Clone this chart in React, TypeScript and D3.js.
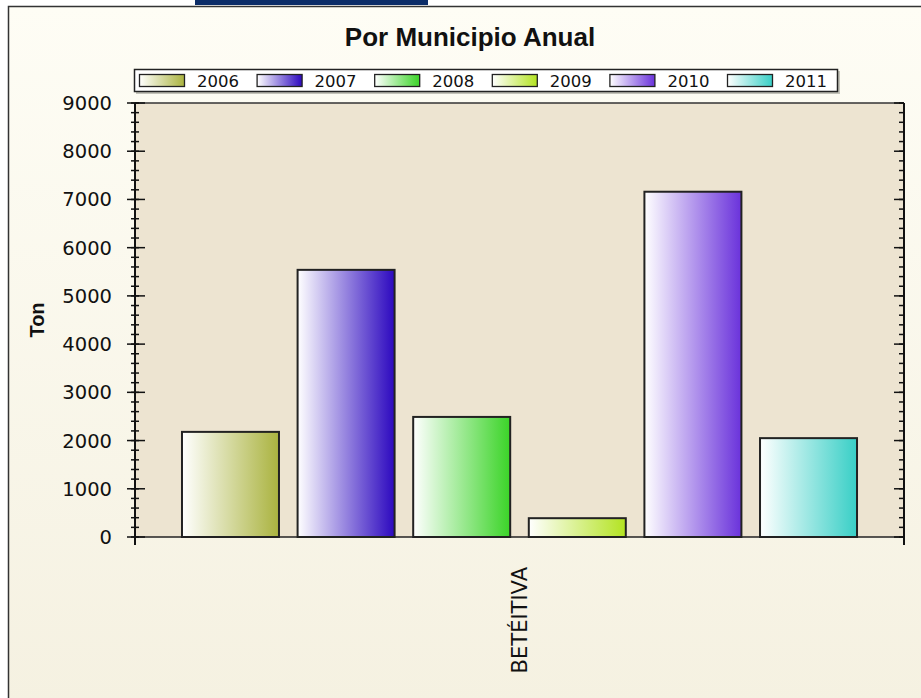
import React from 'react';
import * as d3 from 'd3';

// data
const municipios = ['BETÉITIVA'];
const years = ['2006', '2007', '2008', '2009', '2010', '2011'];
const tons = [2180, 5540, 2490, 390, 7160, 2050];
const yearColors = ['#aab33f', '#2c08bf', '#3bd428', '#b3e321', '#6a32db', '#38cfc6'];
const yTicks = [0, 1000, 2000, 3000, 4000, 5000, 6000, 7000, 8000, 9000];

const W = 921;
const H = 698;
const plot = { left: 135, right: 904, top: 103, bottom: 537 };

const tickFont = '"DejaVu Sans", Verdana, sans-serif';
const boldFont = '"Liberation Sans", Arial, sans-serif';

const App = () => {
  const x0 = d3
    .scaleBand()
    .domain(municipios)
    .range([plot.left, plot.right])
    .paddingOuter(0.0696);

  const x1 = d3
    .scaleBand()
    .domain(years)
    .range([0, x0.bandwidth()])
    .paddingInner(0.161)
    .paddingOuter(0);

  const y = d3.scaleLinear().domain([0, 9000]).range([plot.bottom, plot.top]);
  const minor = y.ticks(45);

  // legend slots
  const legendX = d3.scaleBand().domain(years).range([139, 139 + 117.6 * years.length]);

  const color = d3.scaleOrdinal<string, string>().domain(years).range(yearColors);

  return (
    <svg
      width={W}
      height={H}
      style={{ position: 'absolute', left: 0, top: 0, background: '#ffffff' }}
    >
      <defs>
        <linearGradient id="panel" x1="0" y1="0" x2="0" y2="1">
          <stop offset="0%" stopColor="#fefdf5" />
          <stop offset="100%" stopColor="#f5f1e1" />
        </linearGradient>
        {years.map((yr) => (
          <linearGradient key={yr} id={`g-${yr}`} x1="0%" y1="0%" x2="100%" y2="0%">
            <stop offset="0%" stopColor="#ffffff" />
            <stop offset="100%" stopColor={color(yr)} />
          </linearGradient>
        ))}
      </defs>

      {/* bit of the page above */}
      <rect x={195} y={0} width={233} height={5} fill="#0b2c68" />

      {/* outer panel */}
      <rect x={8.5} y={6.5} width={W} height={H} fill="url(#panel)" stroke="#333" strokeWidth={1.5} />

      <text
        x={470}
        y={46}
        textAnchor="middle"
        fontFamily={boldFont}
        fontWeight="bold"
        fontSize={26}
        fill="#111"
      >
        Por Municipio Anual
      </text>

      {/* legend */}
      <rect x={136} y={71} width={704} height={23} fill="#8a8a80" opacity={0.5} />
      <rect x={134.5} y={69.5} width={703} height={22} fill="#ffffff" stroke="#222" strokeWidth={1.5} />
      {years.map((yr) => (
        <g key={yr} transform={`translate(${legendX(yr)},0)`}>
          <rect x={0.5} y={74.5} width={45} height={12} fill={`url(#g-${yr})`} stroke="#222" strokeWidth={1.3} />
          <text x={58} y={86.5} fontFamily={tickFont} fontSize={16.5} fill="#111">
            {yr}
          </text>
        </g>
      ))}

      {/* plot area */}
      <rect
        x={plot.left}
        y={plot.top}
        width={plot.right - plot.left}
        height={plot.bottom - plot.top}
        fill="#ede4d1"
      />
      <line x1={plot.left} x2={plot.right} y1={plot.top} y2={plot.top} stroke="#333" strokeWidth={1.5} />

      {/* bars */}
      {municipios.map((m) => (
        <g key={m} transform={`translate(${x0(m)},0)`}>
          {years.map((yr, i) => (
            <rect
              key={yr}
              x={x1(yr)}
              y={y(tons[i])}
              width={x1.bandwidth()}
              height={y(0) - y(tons[i])}
              fill={`url(#g-${yr})`}
              stroke="#222"
              strokeWidth={2}
            />
          ))}
        </g>
      ))}

      {/* bottom axis */}
      <line x1={plot.left} x2={plot.right} y1={plot.bottom} y2={plot.bottom} stroke="#222" strokeWidth={1.5} />
      {municipios.map((m) => (
        <text
          key={m}
          transform={`translate(${x0(m)! + x0.bandwidth() / 2 + 7},567) rotate(-90)`}
          textAnchor="end"
          fontFamily={tickFont}
          fontSize={21}
          fill="#111"
        >
          {m}
        </text>
      ))}

      {/* left axis */}
      <line x1={plot.left} x2={plot.left} y1={plot.top} y2={545} stroke="#111" strokeWidth={2} />
      {minor.map((t) => (
        <line key={`lm${t}`} x1={131} x2={139} y1={y(t)} y2={y(t)} stroke="#111" strokeWidth={1.5} />
      ))}
      {yTicks.map((t) => (
        <g key={`l${t}`}>
          <line x1={127} x2={145} y1={y(t)} y2={y(t)} stroke="#111" strokeWidth={1.5} />
          <text
            x={112}
            y={y(t)}
            dy="0.36em"
            textAnchor="end"
            fontFamily={tickFont}
            fontSize={19.5}
            fill="#111"
          >
            {t}
          </text>
        </g>
      ))}

      {/* right axis */}
      <line x1={plot.right} x2={plot.right} y1={plot.top} y2={545} stroke="#111" strokeWidth={2} />
      {minor.map((t) => (
        <line key={`rm${t}`} x1={899} x2={plot.right} y1={y(t)} y2={y(t)} stroke="#111" strokeWidth={1.5} />
      ))}
      {yTicks.map((t) => (
        <line key={`r${t}`} x1={894} x2={plot.right} y1={y(t)} y2={y(t)} stroke="#111" strokeWidth={1.5} />
      ))}

      <text
        transform={`translate(44,320) rotate(-90)`}
        textAnchor="middle"
        fontFamily={boldFont}
        fontWeight="bold"
        fontSize={20}
        fill="#111"
      >
        Ton
      </text>
    </svg>
  );
};

export default App;
